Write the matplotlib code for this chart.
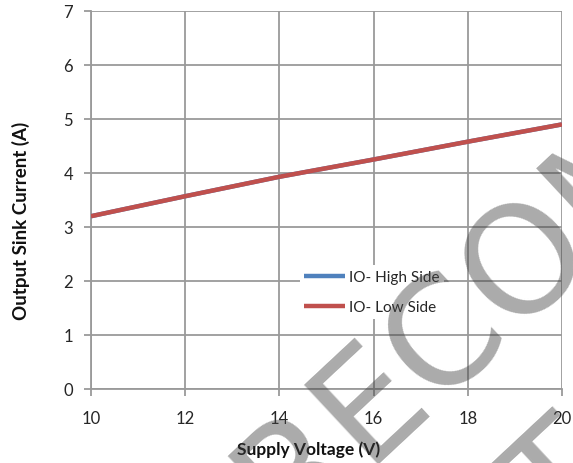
import matplotlib
matplotlib.use("Agg")
import matplotlib.pyplot as plt

voltage = [10, 12, 14, 16, 18, 20]
io_high_side = [3.2, 3.57, 3.93, 4.25, 4.58, 4.9]
io_low_side = [3.2, 3.57, 3.93, 4.25, 4.58, 4.9]
x_ticks = [10, 12, 14, 16, 18, 20]
y_ticks = [0, 1, 2, 3, 4, 5, 6, 7]
watermark = "NOT RECOMMENDED"

plt.rcParams['font.family'] = ['Lato', 'DejaVu Sans']

W, H = 573, 464
fig = plt.figure(figsize=(W/100, H/100), dpi=100)
ax = fig.add_axes([91/W, 1-390/H, (562-91)/W, (390-12)/H])

grid_c = '#9a9a9a'
ax.plot(voltage, io_high_side, color='#4f81bd', lw=3.2, label='IO- High Side', solid_capstyle='butt', zorder=3)
ax.plot(voltage, io_low_side, color='#c0504d', lw=3.2, label='IO- Low Side', solid_capstyle='butt', zorder=4)

ax.set_xlim(10, 20)
ax.set_ylim(0, 7)
ax.set_xticks(x_ticks)
ax.set_yticks(y_ticks)
ax.grid(True, color=grid_c, lw=1.3)
ax.set_axisbelow(True)
for s in ['top', 'right']:
    ax.spines[s].set_visible(False)
for s in ['left', 'bottom']:
    ax.spines[s].set_color(grid_c)
    ax.spines[s].set_linewidth(1.3)
ax.tick_params(axis='both', direction='out', length=5, width=1.3, color=grid_c,
               labelsize=12, labelcolor='#262626')
ax.tick_params(axis='y', pad=8)
ax.tick_params(axis='x', pad=10)

fig.text(237/W, 1-450/H, 'Supply Voltage (V)', fontsize=12.5, fontweight='bold',
         ha='left', va='center', color='#111111')
fig.text(21/W, 1-221/H, 'Output Sink Current (A)', fontsize=13.5, fontweight='bold',
         rotation=90, ha='center', va='center', color='#111111')

leg = ax.legend(loc='center', bbox_to_anchor=(372/W, 1-293/H), bbox_transform=fig.transFigure,
                frameon=True, fontsize=11, handlelength=2.7, handletextpad=0.25,
                labelspacing=1.05, borderpad=0.3)
leg.get_frame().set_edgecolor('none')
leg.get_frame().set_facecolor('white')
leg.get_frame().set_alpha(1)
for t in leg.get_texts():
    t.set_color('#262626')

# watermark (two rotated lines)
for (px, py) in [(22, 798), (392, 706)]:
    fig.text(px/W, 1-py/H, watermark, fontsize=108, color='#444444', alpha=0.45,
             rotation=43, ha='left', va='baseline', family='DejaVu Sans',
             rotation_mode='anchor', zorder=10)

fig.savefig('out.png', dpi=100)
